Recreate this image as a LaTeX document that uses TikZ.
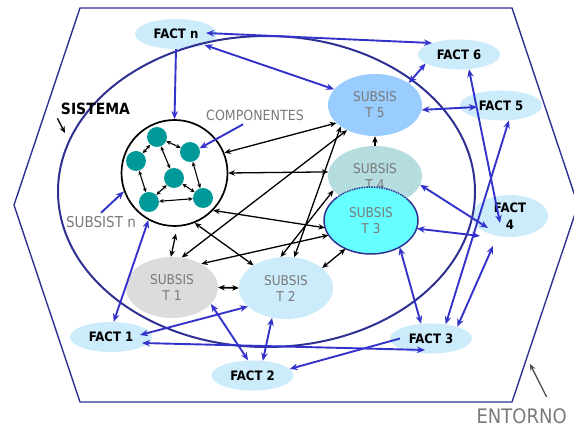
\documentclass[tikz,border=0pt]{standalone}
\usepackage{fontspec}
\setmainfont{DejaVu Sans}[FakeStretch=0.9]
\usetikzlibrary{shapes.geometric,arrows.meta}

\definecolor{factblue}{HTML}{CCEBFB}
\definecolor{subfive}{HTML}{99CCFF}
\definecolor{subfour}{HTML}{B5DDDF}
\definecolor{subthree}{HTML}{66FFFF}
\definecolor{subone}{HTML}{DCDCDC}
\definecolor{linkblue}{HTML}{3333CC}
\definecolor{framenavy}{HTML}{2E3192}
\definecolor{compteal}{HTML}{009999}
\definecolor{labelgray}{HTML}{7A7A7A}

\begin{document}
\begin{tikzpicture}[x=1pt,y=-1pt,
  fact/.style={ellipse,fill=factblue,minimum width=82,minimum height=30,inner sep=0pt,
    align=center,font=\bfseries\fontsize{13}{17}\selectfont},
  subsis/.style={ellipse,minimum width=94,minimum height=62,inner sep=0pt,
    align=center,text=labelgray,font=\fontsize{13.5}{16}\selectfont},
  comp/.style={circle,fill=compteal,minimum size=20,inner sep=0pt},
  link/.style={<->,>={Stealth[length=8pt,width=6.5pt]},linkblue,line width=1.9pt},
  tie/.style={<->,>={Stealth[length=6.5pt,width=5.5pt]},line width=1.3pt},
  comptie/.style={<->,>={Stealth[length=4.5pt,width=4pt]},line width=1.1pt},
  frame/.style={framenavy,line width=1.4pt}]
\useasboundingbox (0,0) rectangle (574,427);

% entorno
\draw[frame] (80,8) -- (512,8) -- (578,205) -- (512,402) -- (80,402) -- (14,205) -- cycle;

% factores
\node[fact] (factn) at (176,34) {FACT n};
\node[fact] (fact6) at (459,54.5) {FACT 6};
\node[fact] (fact5) at (501,105.5) {FACT 5};
\node[fact,minimum width=76,minimum height=42] (fact4) at (510,216) {FACT\\4};
\node[fact] (fact3) at (431,338.5) {FACT 3};
\node[fact] (fact2) at (252.5,375.5) {FACT 2};
\node[fact] (fact1) at (111,337) {FACT 1};

% sistema
\draw[frame,line width=2pt] (266.5,191.5) ellipse [x radius=208.5pt,y radius=155.5pt];

% subsistemas
\node[subsis,fill=subfive] (t5) at (375,105) {SUBSIS\\T 5};
\node[subsis,fill=subfour,minimum height=60] (t4) at (375,176) {SUBSIS\\T 4};
\node[subsis,fill=subthree,minimum height=67] (t3) at (371,220.5) {SUBSIS\\T 3};
\draw[framenavy,line width=1.5pt] (t3.center) ++(136:47pt and 33.5pt)
  arc[start angle=136,end angle=399,x radius=47pt,y radius=33.5pt];
\draw[framenavy,line width=1.5pt,densely dotted] (t3.center) ++(39:47pt and 33.5pt)
  arc[start angle=39,end angle=136,x radius=47pt,y radius=33.5pt];
\node[subsis,fill=subone,minimum width=92,minimum height=61] (t1) at (172,287.5) {SUBSIS\\T 1};
\node[subsis,fill=factblue] (t2) at (286,288) {SUBSIS\\T 2};

% subsistema n y componentes
\node[circle,draw,line width=1.7pt,minimum size=106] (sub) at (174.5,173) {};
\node[comp] (dota) at (157,137) {};
\node[comp] (dotb) at (190,152) {};
\node[comp] (dotc) at (136,161) {};
\node[comp] (dotd) at (174,178) {};
\node[comp] (dote) at (149,202) {};
\node[comp] (dotf) at (203,198) {};

% textos
\node[font=\bfseries\fontsize{15.5}{18}\selectfont] (sistema) at (95.5,109) {SISTEMA};
\node[text=labelgray,font=\fontsize{14}{16}\selectfont] (complabel) at (255,115.5) {COMPONENTES};
\node[text=labelgray,font=\fontsize{15}{17}\selectfont] (subsistlabel) at (101,222) {SUBSIST n};
\node[text=labelgray,font=\fontsize{20}{22}\selectfont,anchor=west] (entorno) at (473,416) {ENTORNO};
\coordinate (sistematip) at (65,133);
\coordinate (entornotip) at (530,364);

% flechas entre componentes
\draw[comptie] (dota) -- (dotb);
\draw[comptie] (dota) -- (dotc);
\draw[comptie] (dota) -- (dotd);
\draw[comptie] (dotb) -- (dotf);
\draw[comptie] (dotc) -- (dote);
\draw[comptie] (dotd) -- (dote);
\draw[comptie] (dotd) -- (dotf);
\draw[comptie] (dote) -- (dotf);

% flechas internas del sistema
\draw[tie] (sub.22) -- (t5.205);
\draw[tie] (sub.east) -- (t4.175);
\draw[tie] (sub.-44) -- (t3.189);
\draw[tie] (t1.72) -- (t5.222);
\draw[tie] (t2.75) -- (t5.212);
\draw[tie] (t2.100) -- (t4.199);
\draw[tie] (sub.-68) -- (t2.145);
\draw[tie,shorten <=7pt] (sub.-87) -- (t1.92);
\draw[tie] (t1.39) -- (t3.199);
\draw[tie,line width=1.8pt] (t1.east) -- (t2.west);
\draw[tie] (t2.29) -- (t3.228);
\draw[tie,->] (t4.north) -- (t5.south);

% flechas con el entorno
\draw[link,->] (factn.south) -- (sub.north);
\draw[link] ([shift={(30,-1)}]factn.center) -- (fact6.157);
\draw[link] (factn.-21) -- (t5.159);
\draw[link] (fact6.195) -- (t5.33);
\draw[link] (fact6.-56) -- ([shift={(-10,7)}]fact4.center);
\draw[link] ([shift={(-24,1.5)}]fact5.center) -- (t5.-6);
\draw[link] (fact5.-62) -- (fact3.44);
\draw[link] (t4.-11) -- ([shift={(-22,12)}]fact4.center);
\draw[link] (t3.-10) -- ([shift={(-30,20)}]fact4.center);
\draw[link] (fact3.24) -- ([shift={(-17,30)}]fact4.center);
\draw[link] (t3.-43) -- (fact3.124);
\draw[link,->] ([shift={(-31,0)}]fact3.center) -- (fact2.10);
\draw[link] ([shift={(31,6)}]fact1.center) -- ([shift={(-6,11.5)}]fact3.center);
\draw[link] (t1.-23) -- (fact2.106);
\draw[link] (t2.245) -- (fact2.55);
\draw[link] (fact1.80) -- (sub.241);
\draw[link] ([shift={(29,-2)}]fact1.center) -- (t2.206);

% rotulos
\draw[link,->] ([xshift=-12pt]complabel.south) -- (dotb.21);
\draw[link,->] (subsistlabel.north) -- (sub.200);
\draw[tie,->] (sistema.south west) -- (sistematip);
\draw[tie,->,black!70] ([shift={(25,-8)}]entorno.north) -- (entornotip);
\end{tikzpicture}
\end{document}
